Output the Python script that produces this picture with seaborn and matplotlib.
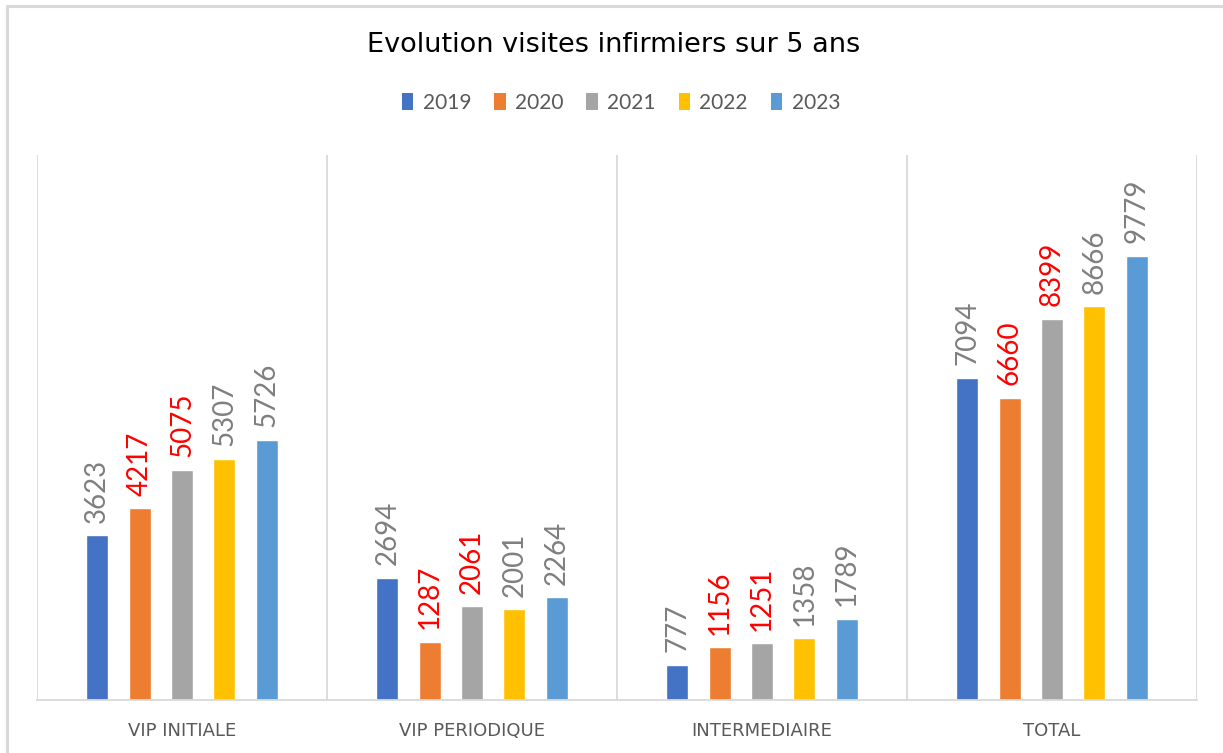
import seaborn as sns
import matplotlib.pyplot as plt
import pandas as pd
from matplotlib.patches import Patch
from matplotlib.lines import Line2D

# Data
categories = ['VIP INITIALE', 'VIP PERIODIQUE', 'INTERMEDIAIRE', 'TOTAL']
years = ['2019', '2020', '2021', '2022', '2023']
v2019 = [3623, 2694, 777, 7094]
v2020 = [4217, 1287, 1156, 6660]
v2021 = [5075, 2061, 1251, 8399]
v2022 = [5307, 2001, 1358, 8666]
v2023 = [5726, 2264, 1789, 9779]

colors = ['#4472C4', '#ED7D31', '#A5A5A5', '#FFC000', '#5B9BD5']
label_colors = ['#7F7F7F', '#FF0000', '#FF0000', '#7F7F7F', '#7F7F7F']

series = [v2019, v2020, v2021, v2022, v2023]
rows = []
for year, vals in zip(years, series):
    for cat, v in zip(categories, vals):
        rows.append({'Categorie': cat, 'Annee': year, 'Visites': v})
df = pd.DataFrame(rows)

sns.set_style('white')
plt.rcParams['font.family'] = ['Lato', 'DejaVu Sans']

W, H = 1223, 753
fig = plt.figure(figsize=(W / 100, H / 100), dpi=100)
ax = fig.add_axes([37 / W, (H - 700) / H, 1160 / W, 545 / H])

sns.barplot(
    data=df, x='Categorie', y='Visites', hue='Annee',
    order=categories, hue_order=years, palette=colors,
    width=0.73, gap=0.48, saturation=1, legend=False, ax=ax
)

# Value labels above bars, rotated
for cont, lc in zip(ax.containers, label_colors):
    ax.bar_label(cont, labels=[str(int(b.get_height())) for b in cont],
                 rotation=90, padding=9, fontsize=20, color=lc)

ax.set_ylim(0, 12000)
ax.set_xlim(-0.5, 3.5)
ax.set_yticks([])
ax.set_xlabel('')
ax.set_ylabel('')
for s in ['top', 'left', 'right']:
    ax.spines[s].set_visible(False)
ax.spines['bottom'].set_color('#D9D9D9')
ax.spines['bottom'].set_linewidth(1.3)

# Category separators
for xb in [-0.5, 0.5, 1.5, 2.5, 3.5]:
    ax.axvline(xb, color='#D9D9D9', linewidth=1.3, zorder=0)

ax.set_xticks(range(len(categories)), labels=categories,
              fontfamily=['DejaVu Sans'], fontsize=13, color='#595959')
ax.tick_params(axis='x', length=0, pad=16)

# Title and legend
fig.text(613.5 / W, 1 - 45 / H, 'Evolution visites infirmiers sur 5 ans',
         ha='center', va='center', fontsize=19.5, color='#000000',
         family=['DejaVu Sans'])
handles = [Patch(facecolor=c, edgecolor='none', label=y) for c, y in zip(colors, years)]
fig.legend(handles=handles, loc='center', bbox_to_anchor=(621 / W, 1 - 103 / H),
           ncol=5, frameon=False, fontsize=15, handlelength=0.55, handleheight=0.9,
           handletextpad=0.45, columnspacing=1.1, labelcolor='#595959')

# Chart outer border (left and top only visible in crop)
fig.add_artist(Line2D([7 / W, 7 / W], [0, 1 - 6 / H], color='#D9D9D9', linewidth=2.2))
fig.add_artist(Line2D([7 / W, 1], [1 - 6 / H, 1 - 6 / H], color='#D9D9D9', linewidth=2.2))

fig.savefig('out.png', dpi=100)
plt.close(fig)
